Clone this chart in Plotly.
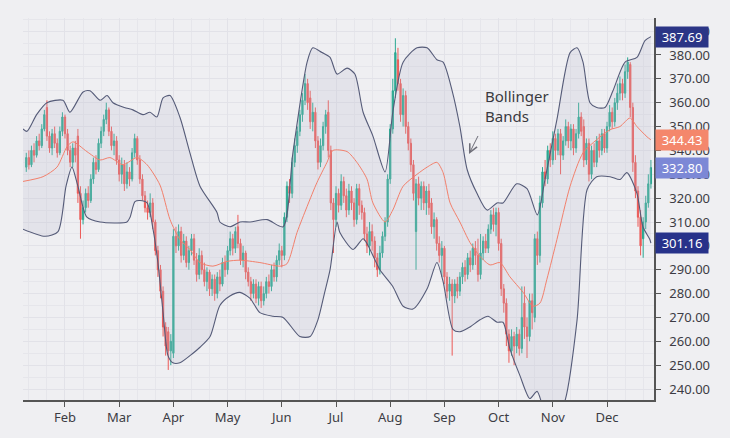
import plotly.graph_objects as go

# ---------------- data ----------------
first_idx = 6  # trading-day index of first candle (Jan month starts at index 0)

opens = [333,337,334,340,338,344,342,349,358,346,341,347,343,339,348,
         354,347,340,335,341,346,322,311,316,322,319,328,335,332,343,348,353,357,348,342,344,
         336,330,334,326,331,328,339,345,336,328,321,316,314,318,310,298,290,281,266,264,256,
         255,304,300,306,296,302,293,298,303,294,288,296,290,285,289,282,286,280,287,284,293,
         290,298,303,299,308,301,294,297,289,285,280,284,278,283,277,280,285,283,290,287,294,
         298,296,312,325,322,335,342,348,355,361,368,362,352,356,344,335,342,350,356,340,318,
         311,322,317,327,321,315,323,318,311,324,317,314,305,300,306,302,295,290,297,304,310,
         328,349,365,378,368,355,363,350,343,334,306,326,320,325,318,323,318,308,311,301,296,
         299,287,281,284,279,284,281,287,291,288,295,292,299,296,288,297,302,299,307,313,309,
         314,301,282,276,263,256,262,258,263,257,276,266,262,277,270,303,296,318,331,328,340,
         336,345,340,347,338,344,350,344,349,341,347,354,350,336,343,330,340,335,344,340,347,
         341,350,356,352,360,364,368,364,373,376,358,335,323,312,303,310,318,326]
highs = [339,340,342,343,346,347,351,357,361,348,349,350,345,350,356,
         355,349,342,343,344,349,325,319,324,325,330,337,338,345,350,355,360,358,350,347,346,
         338,337,336,335,333,341,347,346,338,330,323,319,322,320,311,300,292,283,268,266,263,
         307,308,309,308,305,304,300,305,305,297,299,298,293,291,290,288,288,289,290,295,296,
         300,306,305,308,313,303,300,298,291,287,286,286,285,285,283,287,288,292,293,296,301,
         300,314,327,328,337,345,350,357,364,372,370,365,360,358,346,345,352,357,361,342,320,
         325,324,330,329,324,326,325,320,326,326,319,316,308,310,309,304,297,300,306,312,330,
         351,370,387,383,370,366,365,352,345,336,328,329,327,327,325,326,320,314,312,304,302,
         300,289,287,286,286,287,289,293,294,297,298,301,302,303,305,304,305,309,315,316,316,
         316,303,284,278,265,265,264,266,265,283,283,270,280,280,305,306,321,333,336,342,343,
         348,347,349,349,346,353,352,351,351,349,360,356,353,345,345,342,343,346,347,349,349,
         352,359,358,362,368,371,370,376,379,377,360,338,325,315,312,321,330,336]
lows = [331,332,333,335,337,340,341,348,344,339,338,341,337,338,346,
        345,338,333,333,335,318,303,309,314,316,318,326,330,331,341,346,351,346,340,338,334,
        327,326,323,324,325,327,337,334,326,319,314,311,312,307,296,287,278,262,254,248,250,
        253,297,298,293,294,291,290,296,292,285,286,288,283,281,279,279,277,278,281,283,287,
        288,296,296,297,299,292,291,286,283,277,278,276,275,274,275,278,280,281,285,285,292,
        291,294,310,318,320,333,339,346,352,359,357,349,348,341,332,333,340,347,337,315,297,
        308,314,315,318,312,313,315,308,309,313,311,302,297,296,298,291,287,288,295,302,308,
        326,347,362,365,352,350,347,340,331,319,290,317,315,315,313,313,305,303,298,293,287,
        284,278,277,254,276,278,279,284,285,286,289,290,292,285,286,294,297,297,305,306,304,
        298,279,272,258,251,254,250,255,254,255,261,253,260,265,268,292,293,316,325,326,333,
        334,336,338,330,336,342,341,340,338,339,345,346,333,334,327,328,333,333,337,338,339,
        339,348,349,350,357,361,361,362,370,354,331,320,308,296,295,307,316,324]
closes = [337,334,340,338,344,342,349,355,346,341,347,343,339,348,354,
          347,340,335,341,338,322,311,316,322,319,328,335,332,343,348,353,357,348,342,344,336,
          330,334,326,331,328,339,345,336,328,321,316,314,318,310,298,290,281,266,258,256,260,
          304,300,306,296,302,293,298,303,294,288,296,290,285,289,282,286,280,287,284,293,290,
          298,303,299,306,301,294,297,289,285,280,284,278,283,277,280,285,283,290,287,294,298,
          296,312,325,322,335,342,348,355,361,368,360,352,356,344,335,342,350,355,340,318,311,
          322,317,327,321,315,323,318,311,324,317,314,305,300,306,302,295,290,297,304,310,328,
          349,365,381,368,355,363,350,343,334,322,326,320,325,318,323,316,308,311,301,296,299,
          287,281,284,279,284,281,287,291,288,295,292,299,296,288,297,302,299,307,313,309,314,
          301,282,276,263,256,262,258,263,257,270,266,262,277,272,303,296,318,331,328,340,336,
          345,340,347,338,344,350,344,349,341,347,354,348,336,343,330,340,335,344,340,347,341,
          350,356,352,360,364,368,364,373,377,358,335,323,312,300,310,318,326,332.80]

# Bollinger bands (20-day) at sample points
upper_idx = [4.7,6.3,10,14,20.2,22.9,28,30.7,34.6,37.3,39.6,44,47.3,51.2,53.9,56.6,59,61.7,65.5,69.4,
             73.3,79.9,81,84.9,88.8,92.7,99.3,105.5,109.3,114.8,117,120.6,123.7,126.4,130.3,133.3,
             136.5,140.3,145,148,152,157.4,161.3,165.1,167.5,171,174,176.8,180.6,184.5,188.4,190.7,
             196,200,204,207,211.6,216.7,219.4,221.7,224.4,227,230.2,233.3,238,242.6,245.7,248]
upper_val = [349,348,355,360,361,356,364.5,365,361,363,360,358,357,355,356,354,362,363,354,339,
             325,314,310,308,310,310,311,308,339,377,383,381,379,372,374.5,372,
             356,346,331,356,377,383,383,378,377,365,350,332,322,315,318,318,
             326,324,313,328,353,381,383,377,360,358,358,365,377,379,386,387.69]

middle_idx = [4.7,12.5,17.9,21.8,24.1,29.5,34.6,38.4,43.5,48.9,52.8,57.8,61.7,65.5,69.4,73.3,78.3,
              83.8,88.8,96.5,104.3,107,110.9,114.8,118.6,122.5,124.8,130.3,134.1,138,140.3,145,148,
              152,157.4,161.3,165.1,167.5,170.2,174,177.9,181.8,185.7,189.5,193.4,198.5,202.3,205,
              207.7,211.6,216.7,221.7,227,232.2,236,239.9,242.6,246.5,248]
middle_val = [327,329,333,341.6,343.6,339.5,336,337,334,337,334,325.5,311,302.7,298.5,293,291.5,
              293.5,294,293,291.5,292.5,305.6,316.5,326.5,335,340,339.5,335,328,318,310,315,
              325,330,333,335,330.7,318,310,301.4,295.6,292,293,287,280.5,274.7,276,
              286,302.7,325,339,344.5,348.7,350,353.6,350,345.7,344.43]

lower_idx = [4.7,13.3,18.3,21.4,23.7,26,29.5,34.6,45,46.2,48.1,50,52.8,55.1,57,59,60.9,62.8,65.5,
             70.6,73.3,77.2,81,84.9,88.8,92.7,96.5,101.6,105.5,112,116,119,121.5,123.7,126.4,127.5,
             132.6,136.5,138,143,148,152,155.8,161.3,165.1,167.5,171.3,174,177.9,181.8,184.9,188.4,
             190.7,193.4,197.3,201.1,203.9,207,210.8,214.7,219.4,223.3,227,232.2,236,238.7,242.6,
             244.9,247.6,248]
lower_val = [307,304,306,325,333,325,312,310,310,312,318.5,319,318,307,293,272,254,251,251,
             255,257.5,262,275,279,280.5,278,272,270.5,270,262,262,269,280,290,310,305.6,
             298.5,303,301,290,283,274.7,273.5,282,293,285,265,264,266,269,270.5,268,
             268,256.7,245.5,236,239,230,226,235,269,323.6,329,329,327.8,330.7,322,
             308,302.7,301.16]

month_labels = ["Feb","Mar","Apr","May","Jun","Jul","Aug","Sep","Oct","Nov","Dec"]
month_ticks = [21,42,63,84,105,126,147,168,189,210,231]

# ---------------- figure ----------------
x_idx = list(range(first_idx, first_idx + len(closes)))

BG = "#efeff2"
GRID = "#e2e2e8"
BAND = "#555b78"
MID = "#f2806c"
UP = "#2aa891"
DOWN = "#ec5a57"
TXT = "#3c3c44"

fig = go.Figure()

fig.add_trace(go.Scatter(x=upper_idx, y=upper_val, mode="lines",
                         line=dict(color=BAND, width=1.1, shape="spline", smoothing=0.7),
                         hoverinfo="skip", showlegend=False))
fig.add_trace(go.Scatter(x=lower_idx, y=lower_val, mode="lines",
                         line=dict(color=BAND, width=1.1, shape="spline", smoothing=0.7),
                         fill="tonexty", fillcolor="rgba(185,188,205,0.22)",
                         hoverinfo="skip", showlegend=False))
fig.add_trace(go.Scatter(x=middle_idx, y=middle_val, mode="lines",
                         line=dict(color=MID, width=1, shape="spline", smoothing=0.7),
                         hoverinfo="skip", showlegend=False))

fig.add_trace(go.Candlestick(
    x=x_idx, open=opens, high=highs, low=lows, close=closes,
    increasing=dict(line=dict(color=UP, width=1), fillcolor=UP),
    decreasing=dict(line=dict(color=DOWN, width=1), fillcolor=DOWN),
    whiskerwidth=0, showlegend=False))

fig.update_layout(
    width=730, height=438,
    margin=dict(l=23, r=76, t=18, b=38),
    paper_bgcolor=BG, plot_bgcolor=BG,
    font=dict(family="Noto Sans", color=TXT, size=13),
    showlegend=False,
    xaxis=dict(
        range=[4.73, 249.2], rangeslider=dict(visible=False),
        tickmode="array", tickvals=month_ticks, ticktext=month_labels,
        ticks="outside", ticklen=5, tickcolor="#555", tickwidth=1.2,
        showline=True, linecolor="#555", linewidth=1.5,
        showgrid=True, gridcolor=GRID, gridwidth=1,
        minor=dict(dtick=7, tick0=0, showgrid=True, gridcolor="#e6e6eb", ticks=""),
        zeroline=False, tickfont=dict(size=13, color=TXT),
    ),
    yaxis=dict(
        side="right", range=[235.4, 395.5], tick0=240, dtick=10, tickformat=".2f",
        ticks="outside", ticklen=5, tickcolor="#555", tickwidth=1.2,
        showline=True, linecolor="#555", linewidth=1.5,
        showgrid=True, gridcolor=GRID, gridwidth=1,
        minor=dict(dtick=5, showgrid=True, gridcolor="#e6e6eb", ticks=""),
        zeroline=False, ticklabelstandoff=6, tickfont=dict(size=13, color=TXT),
    ),
)

# value tags on the right axis
tags = [(upper_val[-1], "#2b3586"), (middle_val[-1], "#f4876c"),
        (closes[-1], "#7c88d6"), (lower_val[-1], "#27328a")]
for val, col in tags:
    fig.add_annotation(x=1, xref="paper", xanchor="left", xshift=1,
                       y=val, yref="y", yanchor="middle",
                       text=f"{val:.2f}", showarrow=False,
                       font=dict(color="white", size=13, family="Noto Sans"),
                       bgcolor=col, borderpad=2, width=48, height=16, align="center")

# "Bollinger Bands" note with arrow
fig.add_annotation(x=0.729, y=0.77, xref="paper", yref="paper",
                   xanchor="left", yanchor="middle", align="left",
                   text="Bollinger<br>Bands", showarrow=False,
                   font=dict(size=15, color="#3a3a40", family="Noto Sans"))
fig.add_annotation(x=0.7068, y=0.644, xref="paper", yref="paper",
                   text=" ", showarrow=True, ax=12, ay=-24,
                   arrowhead=5, arrowsize=1.6, arrowwidth=1, arrowcolor="#6e6e78")

fig.write_html("out.html")
